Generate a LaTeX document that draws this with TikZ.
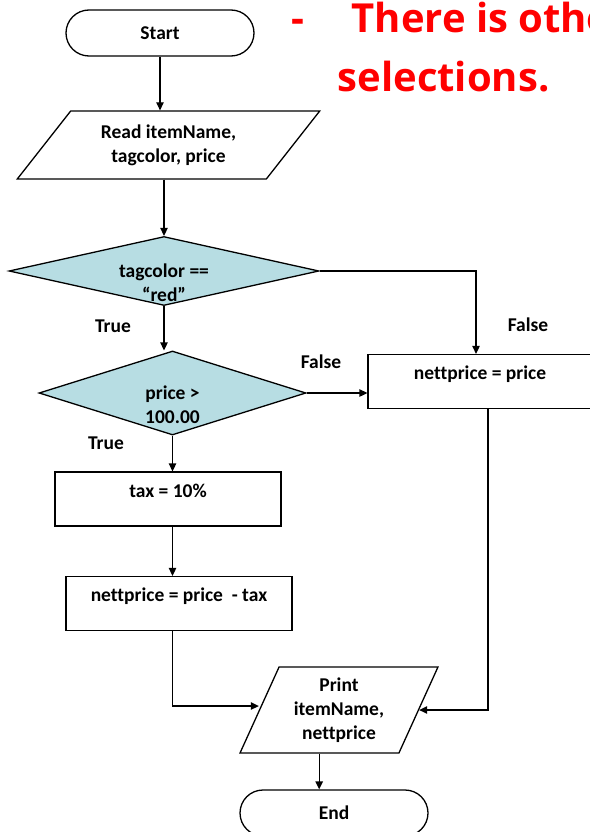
\documentclass[tikz,border=0pt]{standalone}
\usepackage{fontspec}
\setmainfont{Carlito}[Ligatures=NoCommon]
\newfontfamily\notefont{Open Sans}
\usetikzlibrary{shapes.geometric,shapes.misc,arrows.meta}
\definecolor{decblue}{RGB}{183,221,227}
\definecolor{notered}{RGB}{255,0,0}

\begin{document}
\begin{tikzpicture}[x=1pt,y=-1pt,line width=1.3pt,
    font=\fontsize{19.5}{24}\selectfont\bfseries,
    every node/.style={inner sep=0pt},
    terminal/.style={draw,rounded rectangle,minimum width=188pt,minimum height=46pt},
    iobox/.style={draw,trapezium,trapezium stretches=true,align=center},
    decision/.style={draw,diamond,fill=decblue,align=center,inner sep=-20pt},
    procbox/.style={draw,rectangle,minimum width=226pt,minimum height=54pt,
        text height=25pt,text depth=29pt},
    flow/.style={-{Triangle[length=8pt,width=7.5pt]}},
    note/.style={anchor=base west,text=notered,
        font=\notefont\fontsize{40}{48}\selectfont\bfseries}]
        \useasboundingbox (0,0) rectangle (589,832);

        % flowchart shapes
        \node[terminal] (start) at (160,33) {Start};
        \node[iobox,minimum width=303pt,minimum height=68pt,
            trapezium left angle=48,trapezium right angle=132]
            (read) at (168.5,145) {Read itemName,\\tagcolor, price};
        \node[decision,minimum width=310pt,minimum height=69pt,aspect=4.5]
            (d1) at (164,271) {\strut\\[-3pt]tagcolor ==\\“red”};
        \node[decision,minimum width=267pt,minimum height=84pt,aspect=3.2]
            (d2) at (172.5,393) {\strut\\[-3pt]price >\\100.00};
        \node[procbox,minimum width=224pt] (netA) at (480,381.5) {nettprice = price};
        \node[procbox] (tax) at (168,499) {tax = 10\%};
        \node[procbox] (net2) at (179,603.5) {nettprice = price \ - tax};
        \node[iobox,minimum width=198pt,minimum height=86pt,
            trapezium left angle=65.6,trapezium right angle=114.4]
            (print) at (339,710) {Print\\itemName,\\nettprice};
        \node[terminal] (stop) at (334,813) {End};

        % branch labels
        \node (t1) at (113,326) {True};
        \node (f1) at (528,325) {False};
        \node (f2) at (321,362) {False};
        \node (t2) at (106,443) {True};

        % connectors
        \draw[flow] (start.south) -- (start.south |- read.north);
        \draw[flow] (d1.north |- read.south) -- (d1.north);
        \draw[flow] (d1.south) -- (d1.south |- d2.north);
        \draw[flow] (d1.east) -| ([xshift=-4pt]netA.north);
        \draw[flow] (d2.east) -- (d2.east -| netA.west);
        \draw[flow] (d2.south) -- (d2.south |- tax.north);
        \draw[flow] (d2.south |- tax.south) -- (d2.south |- net2.north);
        \draw[flow] (d2.south |- net2.south) |- ([yshift=4pt]print.west);
        \draw[flow] ([xshift=8pt]netA.south) |- (print.east);
        \draw[flow] (print.bottom side) -- (print.bottom side |- stop.north);

        % red note
        \node[note] (dash) at (291,33) {-};
        \node[note] (line1) at (351,33) {There is othe};
        \node[note] (line2) at (337,92) {selections.};
\end{tikzpicture}
\end{document}
